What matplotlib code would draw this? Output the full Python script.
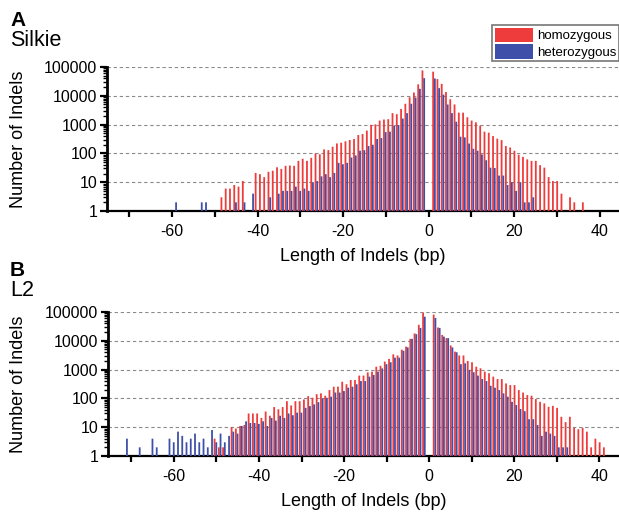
import numpy as np
import matplotlib
matplotlib.use('Agg')
import matplotlib.pyplot as plt
from matplotlib.patches import Patch
from matplotlib.ticker import FixedLocator, NullFormatter

plt.rcParams['font.family'] = ['Liberation Sans', 'DejaVu Sans']
plt.rcParams['axes.unicode_minus'] = False

RED = '#EE3B3B'
BLUE = '#3D4FA8'

# ---------------- Panel A : Silkie ----------------
silkie_neg_len = list(range(-59, 0))
silkie_hom_neg = [0] * 11 + [3, 6, 6, 8, 7, 11, 0, 0, 21, 19, 15, 23, 25, 33, 29, 37, 38, 37,
                             55, 65, 55, 70, 100, 93, 138, 130, 170, 222, 235, 263, 292, 316,
                             435, 470, 620, 980, 1020, 1380, 1500, 1540, 2500, 2300, 3500,
                             5300, 8900, 13000, 25000, 76000]
silkie_het_neg = [2, 0, 0, 0, 0, 0, 2, 2, 0, 0, 0, 0, 0, 0, 2, 0, 2, 0, 4, 0, 0, 0, 3, 0,
                  4, 5, 5, 5, 7, 5, 6, 5, 10, 11, 16, 19, 15, 21, 47, 42, 47, 72, 85, 124,
                  130, 180, 200, 316, 340, 550, 570, 930, 970, 1620, 2500, 5300, 8700,
                  17500, 41000]
silkie_pos_len = list(range(1, 37))
silkie_hom_pos = [69000, 38000, 26000, 13500, 7600, 5000, 2600, 2600, 1800, 1380,
                  1200, 920, 570, 525, 400, 325, 290, 180, 160, 124,
                  90, 76, 62, 55, 55, 39, 32, 15, 11, 11,
                  4, 0, 3, 2, 0, 2]
silkie_het_pos = [40000, 18500, 11000, 5000, 2500, 1260, 380, 360, 220, 145,
                  124, 92, 58, 32, 31, 17, 17, 8, 10, 5,
                  10, 2, 2, 3] + [0] * 12

# ---------------- Panel B : L2 ----------------
l2_neg_len = list(range(-71, 0))
l2_hom_neg = [0] * 21 + [4, 2, 2, 0, 10, 9, 11, 12, 30, 30,
                         30, 21, 35, 25, 50, 42, 50, 80, 57, 80,
                         80, 92, 120, 105, 140, 150, 124, 195, 255, 255,
                         380, 310, 435, 435, 620, 620, 800, 850, 1260, 1350,
                         1900, 2350, 3400, 3100, 4900, 6300, 11700, 18000, 36000, 95000]
l2_het_neg = [4, 0, 0, 2, 0, 0, 4, 2, 0, 0,
              4, 3, 7, 5, 3, 4, 6, 3, 4, 2,
              8, 3, 6, 3, 5, 7, 6, 11, 16, 14,
              14, 13, 16, 11, 21, 17, 25, 21, 30, 26,
              32, 32, 47, 54, 62, 74, 100, 105, 115, 160,
              160, 180, 235, 255, 310, 400, 400, 570, 650, 850,
              1100, 1540, 1800, 2600, 2600, 4500, 5900, 11700, 17000, 28000, 69000]
l2_pos_len = list(range(1, 42))
l2_hom_pos = [81000, 29000, 16000, 12400, 6900, 4200, 3100, 3100, 2000, 1800,
              1260, 1110, 850, 750, 570, 470, 470, 330, 290, 290,
              195, 160, 130, 124, 95, 76, 67, 51, 55, 47,
              23, 15, 23, 9.5, 8.5, 9.5, 7, 2, 4, 3, 2]
l2_het_pos = [62000, 28000, 14000, 12400, 5900, 4000, 1540, 1650, 980, 810,
              620, 470, 400, 275, 235, 195, 150, 115, 76, 59,
              43, 36, 19, 19, 12, 5, 7, 6, 5, 2, 2, 2] + [0] * 9

yticks = [1, 10, 100, 1000, 10000, 100000]
ytick_labels = ['1', '10', '100', '1000', '10000', '100000']
xticks = [-60, -40, -20, 0, 20, 40]
xticks_minor = [-70, -50, -30, -10, 10, 30]

W, H = 619, 512
fig = plt.figure(figsize=(W / 100, H / 100), dpi=100)
AX_H = 144


def draw(ax, lens, hom, het, xlim, left_px):
    lens = np.asarray(lens, float)
    hom = np.asarray(hom, float)
    het = np.asarray(het, float)
    # groups sit slightly away from the empty 0 position, as in the original
    centre = lens + 0.25 * np.sign(lens)
    mh = hom > 0
    mt = het > 0
    ax.bar(centre[mh] - 0.2, hom[mh], width=0.42, color=RED, linewidth=0, zorder=3,
           snap=False)
    ax.bar(centre[mt] + 0.2, het[mt], width=0.42, color=BLUE, linewidth=0, zorder=3,
           snap=False)
    ax.set_yscale('log')
    ax.set_ylim(1, 100000)
    ax.set_xlim(*xlim)
    ax.yaxis.set_major_locator(FixedLocator(yticks))
    ax.set_yticklabels(ytick_labels)
    minor = [m * 10 ** e for e in range(0, 5) for m in range(2, 10)]
    ax.yaxis.set_minor_locator(FixedLocator(minor))
    ax.yaxis.set_minor_formatter(NullFormatter())
    ax.set_xticks(xticks)
    ax.set_xticks(xticks_minor, minor=True)
    for s in ['top', 'right']:
        ax.spines[s].set_visible(False)
    ax.spines['left'].set_linewidth(2.0)
    ax.spines['bottom'].set_linewidth(1.6)
    ax.tick_params(axis='y', which='major', direction='out', length=5, width=1.6,
                   labelsize=11.5, pad=2)
    ax.tick_params(axis='x', which='major', direction='out', length=4.5, width=1.6,
                   labelsize=11.5, pad=5)
    ax.tick_params(axis='x', which='minor', direction='out', length=4.5, width=1.6)
    ax.tick_params(axis='y', which='minor', direction='out', length=3, width=1.0)
    for v in yticks[1:]:
        ax.axhline(v, color='#8a8a8a', lw=0.8, ls=(0, (3, 2.5)), zorder=1)
    ax.set_ylabel('Number of Indels', fontsize=13)
    ax.yaxis.set_label_coords((27 - left_px) / (W - left_px), 0.5)
    ax.set_xlabel('Length of Indels (bp)', fontsize=13)
    ax.xaxis.set_label_coords(0.5, -37 / AX_H)


axA = fig.add_axes([107 / W, 1 - 211 / H, (W - 107) / W, AX_H / H])
draw(axA, silkie_neg_len + silkie_pos_len, silkie_hom_neg + silkie_hom_pos,
     silkie_het_neg + silkie_het_pos, (-75.2, 44.5), 107)

axB = fig.add_axes([108 / W, 1 - 456 / H, (W - 108) / W, AX_H / H])
draw(axB, l2_neg_len + l2_pos_len, l2_hom_neg + l2_hom_pos,
     l2_het_neg + l2_het_pos, (-75.5, 44.6), 108)

fig.text(10 / W, 1 - 21 / H, 'A', fontsize=15, fontweight='bold', ha='left', va='center')
fig.text(10 / W, 1 - 41 / H, 'Silkie', fontsize=15.5, ha='left', va='center')
fig.text(10 / W, 1 - 271 / H, 'B', fontsize=15, fontweight='bold', ha='left', va='center')
fig.text(10 / W, 1 - 290 / H, 'L2', fontsize=15.5, ha='left', va='center')

handles = [Patch(facecolor=RED, edgecolor='none', label='homozygous'),
           Patch(facecolor=BLUE, edgecolor='none', label='heterozygous')]
leg = fig.legend(handles=handles, loc='upper right', bbox_to_anchor=(1.0, 1 - 25 / H),
                 fontsize=9.5, frameon=True, fancybox=False, edgecolor='#555555',
                 handlelength=2.9, handleheight=1.35, borderpad=0.2, labelspacing=0.1,
                 handletextpad=0.3, borderaxespad=0)
leg.get_frame().set_linewidth(1.2)

fig.savefig('out.png', dpi=100)
